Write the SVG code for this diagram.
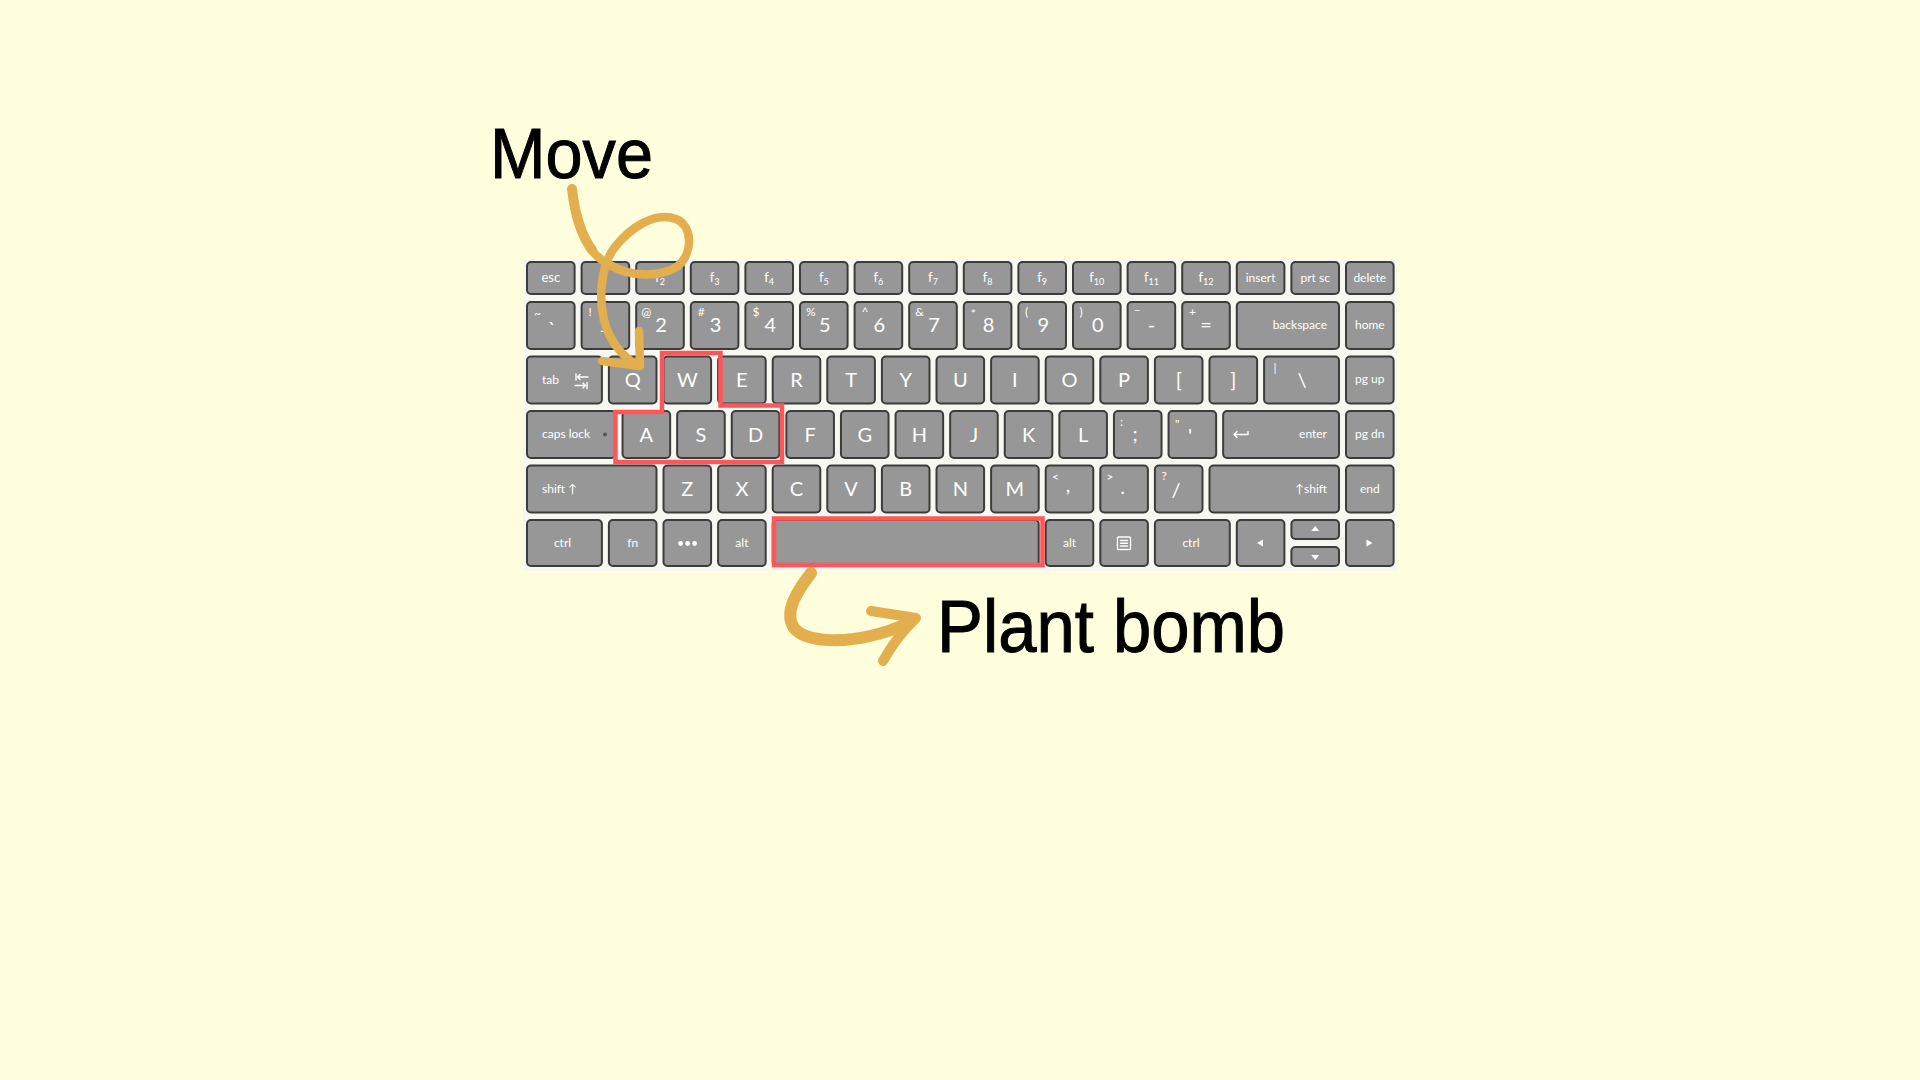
<svg xmlns="http://www.w3.org/2000/svg" width="1920" height="1080" viewBox="0 0 1920 1080">
<style>
.k{fill:#979797;stroke:#3c3c3c;stroke-width:2}
text{font-family:Lato,'DejaVu Sans',sans-serif;fill:#fff}
.L{font-size:20px;text-anchor:middle}
.s{font-size:12px;text-anchor:middle}
.se{font-size:12px;text-anchor:end}
.ss{font-size:12px;text-anchor:start}
.sy{font-size:12px;text-anchor:start}
.fk{font-size:13px;text-anchor:middle}
.sub{font-size:9px}
.ic{fill:none;stroke:#fff;stroke-width:1.4;stroke-linecap:round;stroke-linejoin:round}
.tri{fill:#fff;stroke:none}
.hl{fill:none;stroke:#FF5757;stroke-width:4.5}
.arr{fill:none;stroke:#E3AE4E;stroke-linecap:round;stroke-linejoin:round}
.ann{font-family:'Liberation Sans',Arial,sans-serif;fill:#000}
</style>
<rect width="1920" height="1080" fill="#FFFFDD"/>
<g id="keyboard">
<rect x="523" y="259" width="874" height="312" fill="#F8F8F3"/>
<!-- Row 1 -->
<g id="key-esc"><rect class="k" x="527" y="262" width="47.6" height="32" rx="4"/><text class="fk" x="550.8" y="282">esc</text></g>
<g id="key-f1"><rect class="k" x="581.6" y="262" width="47.6" height="32" rx="4"/></g>
<g id="key-f2"><rect class="k" x="636.2" y="262" width="47.6" height="32" rx="4"/><text class="fk" x="660" y="282">f<tspan class="sub" dy="3">2</tspan></text></g>
<g id="key-f3"><rect class="k" x="690.8" y="262" width="47.6" height="32" rx="4"/><text class="fk" x="714.6" y="282">f<tspan class="sub" dy="3">3</tspan></text></g>
<g id="key-f4"><rect class="k" x="745.4" y="262" width="47.6" height="32" rx="4"/><text class="fk" x="769.2" y="282">f<tspan class="sub" dy="3">4</tspan></text></g>
<g id="key-f5"><rect class="k" x="800" y="262" width="47.6" height="32" rx="4"/><text class="fk" x="823.8" y="282">f<tspan class="sub" dy="3">5</tspan></text></g>
<g id="key-f6"><rect class="k" x="854.6" y="262" width="47.6" height="32" rx="4"/><text class="fk" x="878.4" y="282">f<tspan class="sub" dy="3">6</tspan></text></g>
<g id="key-f7"><rect class="k" x="909.2" y="262" width="47.6" height="32" rx="4"/><text class="fk" x="933" y="282">f<tspan class="sub" dy="3">7</tspan></text></g>
<g id="key-f8"><rect class="k" x="963.8" y="262" width="47.6" height="32" rx="4"/><text class="fk" x="987.6" y="282">f<tspan class="sub" dy="3">8</tspan></text></g>
<g id="key-f9"><rect class="k" x="1018.4" y="262" width="47.6" height="32" rx="4"/><text class="fk" x="1042.2" y="282">f<tspan class="sub" dy="3">9</tspan></text></g>
<g id="key-f10"><rect class="k" x="1073" y="262" width="47.6" height="32" rx="4"/><text class="fk" x="1096.8" y="282">f<tspan class="sub" dy="3">10</tspan></text></g>
<g id="key-f11"><rect class="k" x="1127.6" y="262" width="47.6" height="32" rx="4"/><text class="fk" x="1151.4" y="282">f<tspan class="sub" dy="3">11</tspan></text></g>
<g id="key-f12"><rect class="k" x="1182.2" y="262" width="47.6" height="32" rx="4"/><text class="fk" x="1206" y="282">f<tspan class="sub" dy="3">12</tspan></text></g>
<g id="key-insert"><rect class="k" x="1236.8" y="262" width="47.6" height="32" rx="4"/><text class="s" x="1260.6" y="282">insert</text></g>
<g id="key-prtsc"><rect class="k" x="1291.4" y="262" width="47.6" height="32" rx="4"/><text class="s" x="1315.2" y="282">prt sc</text></g>
<g id="key-delete"><rect class="k" x="1346" y="262" width="47.6" height="32" rx="4"/><text class="s" x="1369.8" y="282">delete</text></g>
<!-- Row 2 -->
<g id="key-grave"><rect class="k" x="527" y="302" width="47.6" height="47" rx="4"/><text class="sy" x="534" y="318">~</text><text class="L" x="552" y="336">`</text></g>
<g id="key-1"><rect class="k" x="581.6" y="302" width="47.6" height="47" rx="4"/><text class="sy" x="588.6" y="316">!</text><text class="L" x="604" y="332">1</text></g>
<g id="key-2"><rect class="k" x="636.2" y="302" width="47.6" height="47" rx="4"/><text class="sy" x="641.2" y="316">@</text><text class="L" x="661" y="332">2</text></g>
<g id="key-3"><rect class="k" x="690.8" y="302" width="47.6" height="47" rx="4"/><text class="sy" x="697.8" y="316">#</text><text class="L" x="715.6" y="332">3</text></g>
<g id="key-4"><rect class="k" x="745.4" y="302" width="47.6" height="47" rx="4"/><text class="sy" x="752.4" y="316">$</text><text class="L" x="770.2" y="332">4</text></g>
<g id="key-5"><rect class="k" x="800" y="302" width="47.6" height="47" rx="4"/><text class="sy" x="806" y="316">%</text><text class="L" x="824.8" y="332">5</text></g>
<g id="key-6"><rect class="k" x="854.6" y="302" width="47.6" height="47" rx="4"/><text class="sy" x="861.6" y="316">^</text><text class="L" x="879.4" y="332">6</text></g>
<g id="key-7"><rect class="k" x="909.2" y="302" width="47.6" height="47" rx="4"/><text class="sy" x="915.2" y="316">&amp;</text><text class="L" x="934" y="332">7</text></g>
<g id="key-8"><rect class="k" x="963.8" y="302" width="47.6" height="47" rx="4"/><text class="sy" x="970.8" y="318">*</text><text class="L" x="988.6" y="332">8</text></g>
<g id="key-9"><rect class="k" x="1018.4" y="302" width="47.6" height="47" rx="4"/><text class="sy" x="1025" y="316">(</text><text class="L" x="1043.2" y="332">9</text></g>
<g id="key-0"><rect class="k" x="1073" y="302" width="47.6" height="47" rx="4"/><text class="sy" x="1079.6" y="316">)</text><text class="L" x="1097.8" y="332">0</text></g>
<g id="key-minus"><rect class="k" x="1127.6" y="302" width="47.6" height="47" rx="4"/><text class="sy" x="1134.6" y="308.5">_</text><text class="L" x="1151.4" y="332">-</text></g>
<g id="key-equals"><rect class="k" x="1182.2" y="302" width="47.6" height="47" rx="4"/><text class="sy" x="1189" y="316">+</text><text class="L" x="1206" y="332">=</text></g>
<g id="key-backspace"><rect class="k" x="1236.8" y="302" width="102.2" height="47" rx="4"/><text class="se" x="1327" y="329">backspace</text></g>
<g id="key-home"><rect class="k" x="1346" y="302" width="47.6" height="47" rx="4"/><text class="s" x="1369.8" y="329">home</text></g>
<!-- Row 3 -->
<g id="key-tab"><rect class="k" x="527" y="356.5" width="74.9" height="47" rx="4"/><text class="ss" x="542" y="383.5">tab</text>
<path class="ic" d="M576 374 V380 M588 377 H577.5 M580 374.5 L577.5 377 L580 379.5 M587 382.5 V388.5 M575 385.5 H585.5 M583 383 L585.5 385.5 L583 388"/></g>
<g id="key-q"><rect class="k" x="608.9" y="356.5" width="47.6" height="47" rx="4"/><text class="L" x="632.7" y="387">Q</text></g>
<g id="key-w"><rect class="k" x="663.5" y="356.5" width="47.6" height="47" rx="4"/><text class="L" x="687.3" y="387">W</text></g>
<g id="key-e"><rect class="k" x="718.1" y="356.5" width="47.6" height="47" rx="4"/><text class="L" x="741.9" y="387">E</text></g>
<g id="key-r"><rect class="k" x="772.7" y="356.5" width="47.6" height="47" rx="4"/><text class="L" x="796.5" y="387">R</text></g>
<g id="key-t"><rect class="k" x="827.3" y="356.5" width="47.6" height="47" rx="4"/><text class="L" x="851.1" y="387">T</text></g>
<g id="key-y"><rect class="k" x="881.9" y="356.5" width="47.6" height="47" rx="4"/><text class="L" x="905.7" y="387">Y</text></g>
<g id="key-u"><rect class="k" x="936.5" y="356.5" width="47.6" height="47" rx="4"/><text class="L" x="960.3" y="387">U</text></g>
<g id="key-i"><rect class="k" x="991.1" y="356.5" width="47.6" height="47" rx="4"/><text class="L" x="1014.9" y="387">I</text></g>
<g id="key-o"><rect class="k" x="1045.7" y="356.5" width="47.6" height="47" rx="4"/><text class="L" x="1069.5" y="387">O</text></g>
<g id="key-p"><rect class="k" x="1100.3" y="356.5" width="47.6" height="47" rx="4"/><text class="L" x="1124.1" y="387">P</text></g>
<g id="key-lbracket"><rect class="k" x="1154.9" y="356.5" width="47.6" height="47" rx="4"/><text class="L" x="1178.7" y="387">[</text></g>
<g id="key-rbracket"><rect class="k" x="1209.5" y="356.5" width="47.6" height="47" rx="4"/><text class="L" x="1233.3" y="387">]</text></g>
<g id="key-backslash"><rect class="k" x="1264.1" y="356.5" width="74.9" height="47" rx="4"/><text class="sy" x="1273.5" y="372">|</text><text class="L" x="1302" y="387">\</text></g>
<g id="key-pgup"><rect class="k" x="1346" y="356.5" width="47.6" height="47" rx="4"/><text class="s" x="1369.8" y="382.5">pg up</text></g>
<!-- Row 4 -->
<g id="key-capslock"><rect class="k" x="527" y="411" width="88.55" height="47" rx="4"/><text class="ss" x="542" y="438">caps lock</text><circle cx="605" cy="434.5" r="2" fill="#555"/></g>
<g id="key-a"><rect class="k" x="622.55" y="411" width="47.6" height="47" rx="4"/><text class="L" x="646.35" y="442">A</text></g>
<g id="key-s"><rect class="k" x="677.15" y="411" width="47.6" height="47" rx="4"/><text class="L" x="700.95" y="442">S</text></g>
<g id="key-d"><rect class="k" x="731.75" y="411" width="47.6" height="47" rx="4"/><text class="L" x="755.55" y="442">D</text></g>
<g id="key-f"><rect class="k" x="786.35" y="411" width="47.6" height="47" rx="4"/><text class="L" x="810.15" y="442">F</text></g>
<g id="key-g"><rect class="k" x="840.95" y="411" width="47.6" height="47" rx="4"/><text class="L" x="864.75" y="442">G</text></g>
<g id="key-h"><rect class="k" x="895.55" y="411" width="47.6" height="47" rx="4"/><text class="L" x="919.35" y="442">H</text></g>
<g id="key-j"><rect class="k" x="950.15" y="411" width="47.6" height="47" rx="4"/><text class="L" x="973.95" y="442">J</text></g>
<g id="key-k"><rect class="k" x="1004.75" y="411" width="47.6" height="47" rx="4"/><text class="L" x="1028.55" y="442">K</text></g>
<g id="key-l"><rect class="k" x="1059.35" y="411" width="47.6" height="47" rx="4"/><text class="L" x="1083.15" y="442">L</text></g>
<g id="key-semicolon"><rect class="k" x="1113.95" y="411" width="47.6" height="47" rx="4"/><text class="sy" x="1120" y="426">:</text><text class="L" x="1135" y="441" font-size="17">;</text></g>
<g id="key-quote"><rect class="k" x="1168.55" y="411" width="47.6" height="47" rx="4"/><text class="sy" x="1175" y="428">"</text><text class="L" x="1190" y="443" font-size="17">'</text></g>
<g id="key-enter"><rect class="k" x="1223.15" y="411" width="115.85" height="47" rx="4"/><text class="se" x="1327" y="438">enter</text>
<path class="ic" d="M1248 431.5 V434.5 H1234 M1237 431.5 L1234 434.5 L1237 437.5"/></g>
<g id="key-pgdn"><rect class="k" x="1346" y="411" width="47.6" height="47" rx="4"/><text class="s" x="1369.8" y="438">pg dn</text></g>
<!-- Row 5 -->
<g id="key-lshift"><rect class="k" x="527" y="465.5" width="129.5" height="47" rx="4"/><text class="ss" x="542" y="492.5">shift ↑</text></g>
<g id="key-z"><rect class="k" x="663.5" y="465.5" width="47.6" height="47" rx="4"/><text class="L" x="687.3" y="496">Z</text></g>
<g id="key-x"><rect class="k" x="718.1" y="465.5" width="47.6" height="47" rx="4"/><text class="L" x="741.9" y="496">X</text></g>
<g id="key-c"><rect class="k" x="772.7" y="465.5" width="47.6" height="47" rx="4"/><text class="L" x="796.5" y="496">C</text></g>
<g id="key-v"><rect class="k" x="827.3" y="465.5" width="47.6" height="47" rx="4"/><text class="L" x="851.1" y="496">V</text></g>
<g id="key-b"><rect class="k" x="881.9" y="465.5" width="47.6" height="47" rx="4"/><text class="L" x="905.7" y="496">B</text></g>
<g id="key-n"><rect class="k" x="936.5" y="465.5" width="47.6" height="47" rx="4"/><text class="L" x="960.3" y="496">N</text></g>
<g id="key-m"><rect class="k" x="991.1" y="465.5" width="47.6" height="47" rx="4"/><text class="L" x="1014.9" y="496">M</text></g>
<g id="key-comma"><rect class="k" x="1045.7" y="465.5" width="47.6" height="47" rx="4"/><text class="sy" x="1052" y="481">&lt;</text><text class="L" x="1068" y="492" font-size="17">,</text></g>
<g id="key-period"><rect class="k" x="1100.3" y="465.5" width="47.6" height="47" rx="4"/><text class="sy" x="1106.5" y="481">&gt;</text><text class="L" x="1122.5" y="494" font-size="17">.</text></g>
<g id="key-slash"><rect class="k" x="1154.9" y="465.5" width="47.6" height="47" rx="4"/><text class="sy" x="1161.5" y="480">?</text><text class="L" x="1176" y="497" font-size="18">/</text></g>
<g id="key-rshift"><rect class="k" x="1209.5" y="465.5" width="129.5" height="47" rx="4"/><text class="se" x="1327" y="492.5">↑shift</text></g>
<g id="key-end"><rect class="k" x="1346" y="465.5" width="47.6" height="47" rx="4"/><text class="s" x="1369.8" y="492.5">end</text></g>
<!-- Row 6 -->
<g id="key-lctrl"><rect class="k" x="527" y="520" width="74.9" height="46" rx="4"/><text class="s" x="562.5" y="547">ctrl</text></g>
<g id="key-fn"><rect class="k" x="608.9" y="520" width="47.6" height="46" rx="4"/><text class="s" x="632.7" y="547">fn</text></g>
<g id="key-dots"><rect class="k" x="663.5" y="520" width="47.6" height="46" rx="4"/><circle class="tri" cx="680.6" cy="543.5" r="2.4"/><circle class="tri" cx="687.6" cy="543.5" r="2.4"/><circle class="tri" cx="694.6" cy="543.5" r="2.4"/></g>
<g id="key-lalt"><rect class="k" x="718.1" y="520" width="47.6" height="46" rx="4"/><text class="s" x="741.9" y="547">alt</text></g>
<g id="key-space"><rect class="k" x="772.7" y="520" width="266" height="46" rx="4"/></g>
<g id="key-ralt"><rect class="k" x="1045.7" y="520" width="47.6" height="46" rx="4"/><text class="s" x="1069.5" y="547">alt</text></g>
<g id="key-menu"><rect class="k" x="1100.3" y="520" width="47.6" height="46" rx="4"/><rect class="ic" x="1117.5" y="537" width="13" height="12.5" rx="1" stroke-width="1.1"/><path class="ic" stroke-width="1" d="M1120.5 540.5 H1127.5 M1120.5 543.2 H1127.5 M1120.5 546 H1127.5"/></g>
<g id="key-rctrl"><rect class="k" x="1154.9" y="520" width="74.9" height="46" rx="4"/><text class="s" x="1191" y="547">ctrl</text></g>
<g id="key-left"><rect class="k" x="1236.8" y="520" width="47.6" height="46" rx="4"/><path class="tri" d="M1257 543 L1263 539.5 V546.5 Z"/></g>
<g id="key-up"><rect class="k" x="1291.4" y="520" width="47.6" height="19" rx="4"/><path class="tri" d="M1315.2 526 L1319.2 531 H1311.2 Z"/></g>
<g id="key-down"><rect class="k" x="1291.4" y="547" width="47.6" height="19" rx="4"/><path class="tri" d="M1311.2 555 H1319.2 L1315.2 560 Z"/></g>
<g id="key-right"><rect class="k" x="1346" y="520" width="47.6" height="46" rx="4"/><path class="tri" d="M1372.5 543 L1366.5 539.5 V546.5 Z"/></g>
</g>
<g id="highlights">
<path id="hl-wasd" class="hl" d="M662 353 H720.5 V405.5 H782 V462 H615.5 V412 H662 Z"/>
<rect id="hl-space" class="hl" x="774" y="518.5" width="268.5" height="46.5"/>
</g>
<g id="labels">
<g id="label-move"><text class="ann" x="490" y="178" font-size="71" textLength="163" lengthAdjust="spacingAndGlyphs" stroke="#000" stroke-width="1">Move</text></g>
<g id="label-plant"><text class="ann" x="937" y="652" font-size="74" textLength="348" lengthAdjust="spacingAndGlyphs" stroke="#000" stroke-width="1">Plant bomb</text></g>
</g>
<g id="connectors">
<path class="arr" stroke-width="10" d="M572 189 C575 215 581 235 592 250"/>
<path class="arr" stroke-width="8.5" d="M590 247 C595 256 602 261 610 265 C630 277 660 278 678 266 C694 252 692 225 676 219 C655 211 630 228 615 247 C600 266 599 300 604 320 C609 340 622 356 638 366"/>
<path class="arr" stroke-width="8.5" d="M639 331 L640 366 L602 361"/>
<path class="arr" stroke-width="12" d="M811 573 C798 590 783 612 794 628 C806 642 840 643 870 636 C888 632 900 627 910 622"/>
<path class="arr" stroke-width="10" d="M871 611 L916 618 Q897 636 883 661"/>
</g>
</svg>
